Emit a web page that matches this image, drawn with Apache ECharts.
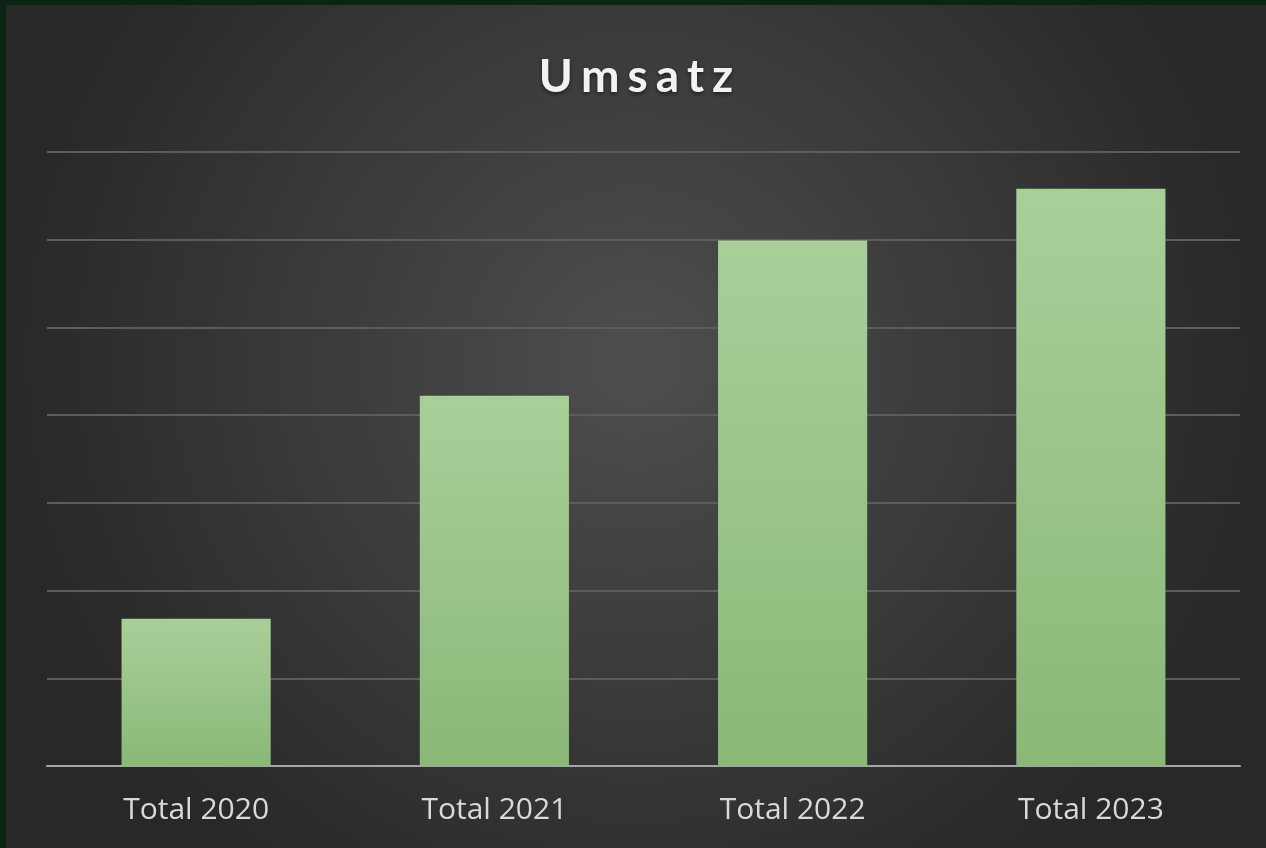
<!DOCTYPE html>
<html>
<head>
<meta charset="utf-8">
<script src="https://cdn.jsdelivr.net/npm/echarts@6/dist/echarts.min.js"></script>
<style>
  html, body { margin: 0; padding: 0; background: #0d2415; }
  #chart { position: absolute; left: 6px; top: 5px; width: 1260px; height: 843px; }
</style>
</head>
<body>
<div id="chart"></div>
<script>
const titleText = 'Umsatz'
const categories = ['Total 2020', 'Total 2021', 'Total 2022', 'Total 2023']
const umsatz = [1.68, 4.22, 5.99, 6.58]
const yMax = 7

// spaced-out title, one rich segment per letter
const spacedTitle = titleText.split('').map(c => '{s|' + c + '}').join('')

const chart = echarts.init(document.getElementById('chart'))
const option = {
  backgroundColor: {
    type: 'radial', x: 0.5, y: 0.42, r: 0.75,
    colorStops: [
      { offset: 0, color: '#4e4e4e' },
      { offset: 1, color: '#282828' }
    ]
  },
  title: {
    text: spacedTitle,
    left: 'center',
    top: 44,
    textStyle: {
      rich: {
        s: {
          color: '#f2f2f2',
          fontFamily: 'Lato',
          fontWeight: 'bold',
          fontSize: 46,
          padding: [0, 4, 0, 4],
          textShadowColor: 'rgba(0,0,0,0.5)',
          textShadowBlur: 4,
          textShadowOffsetY: 2
        }
      }
    }
  },
  grid: { left: 41, right: 26, top: 147, bottom: 82 },
  xAxis: {
    type: 'category',
    data: categories,
    axisLine: { lineStyle: { color: '#a6a6a6', width: 2 } },
    axisTick: { show: false },
    axisLabel: { color: '#d9d9d9', fontFamily: 'Open Sans', fontSize: 30, margin: 29 }
  },
  yAxis: {
    type: 'value',
    min: 0,
    max: yMax,
    interval: 1,
    axisLabel: { show: false },
    axisLine: { show: false },
    axisTick: { show: false },
    splitLine: { lineStyle: { color: '#5c5c5c', width: 2 } }
  },
  series: [
    {
      name: 'Umsatz',
      type: 'bar',
      data: umsatz,
      barWidth: '50%',
      itemStyle: {
        color: {
          type: 'linear', x: 0, y: 0, x2: 0, y2: 1,
          colorStops: [
            { offset: 0, color: '#a9cf99' },
            { offset: 1, color: '#8ab877' }
          ]
        },
        shadowColor: 'rgba(0,0,0,0.45)',
        shadowBlur: 6,
        shadowOffsetX: 3
      }
    }
  ]
}
chart.setOption(option)
</script>
</body>
</html>
